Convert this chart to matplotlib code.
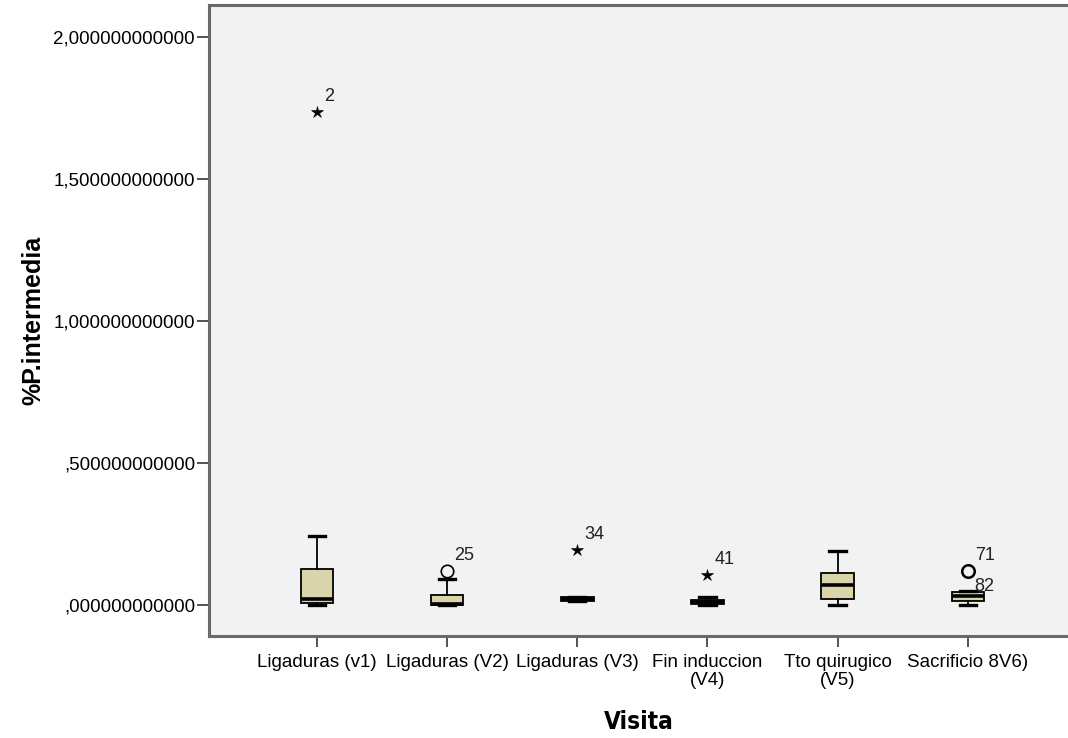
import matplotlib
matplotlib.use("Agg")
import matplotlib.pyplot as plt

plt.rcParams['font.family'] = ['Liberation Sans', 'DejaVu Sans']

# Visit categories (x axis)
categories = ["Ligaduras (v1)", "Ligaduras (V2)", "Ligaduras (V3)",
              "Fin induccion\n(V4)", "Tto quirugico\n(V5)", "Sacrificio 8V6)"]

# Box statistics of %P.intermedia per visit
q1 = [0.007, 0.001, 0.016, 0.003, 0.020, 0.013]
medians = [0.021, 0.004, 0.022, 0.011, 0.072, 0.031]
q3 = [0.126, 0.036, 0.029, 0.019, 0.114, 0.046]
whisk_lo = [0.000, 0.000, 0.016, 0.001, 0.000, 0.000]
whisk_hi = [0.244, 0.090, 0.029, 0.030, 0.191, 0.048]

# Outliers: (visit index, value, case label, extreme?)
outlier_visit = [0, 1, 2, 3, 5]
outlier_value = [1.736, 0.121, 0.194, 0.105, 0.121]
outlier_case = ["2", "25", "34", "41", "71"]
outlier_extreme = [True, False, True, True, False]

# Extra case label next to the V6 upper whisker
extra_case = "82"
extra_value = 0.050

yticks = [0.0, 0.5, 1.0, 1.5, 2.0]
ytick_labels = [",000000000000", ",500000000000", "1,000000000000",
                "1,500000000000", "2,000000000000"]

fig = plt.figure(figsize=(10.68, 7.38), dpi=100)
fig.patch.set_facecolor("white")
ax = fig.add_axes([209 / 1068, 102 / 738, 1 - 209 / 1068, 631 / 738])
ax.set_facecolor("#F2F2F2")

positions = list(range(1, len(categories) + 1))
stats = []
for i in range(len(categories)):
    stats.append(dict(med=medians[i], q1=q1[i], q3=q3[i],
                      whislo=whisk_lo[i], whishi=whisk_hi[i], fliers=[]))

ax.bxp(stats, positions=positions, widths=0.25, patch_artist=True,
       showfliers=False,
       boxprops=dict(facecolor="#D9D4A9", edgecolor="black", linewidth=1.3),
       medianprops=dict(color="black", linewidth=2.6),
       whiskerprops=dict(color="black", linewidth=1.3),
       capprops=dict(color="black", linewidth=2.4),
       capwidths=0.125)

for vi, val, case, extreme in zip(outlier_visit, outlier_value,
                                  outlier_case, outlier_extreme):
    x = positions[vi]
    if extreme:
        ax.plot(x, val, marker="*", color="black", markersize=9,
                markeredgewidth=0.4, linestyle="none", zorder=4)
    else:
        ax.plot(x, val, marker="o", markerfacecolor="none",
                markeredgecolor="black", markersize=9,
                markeredgewidth=1.8 if case == "71" else 1.2,
                linestyle="none", zorder=4)
    ax.annotate(case, xy=(x, val), xytext=(5, 5), textcoords="offset points",
                fontsize=13, ha="left", va="bottom", color="#222222")

ax.annotate(extra_case, xy=(positions[5], extra_value), xytext=(5, -3),
            textcoords="offset points", fontsize=13, ha="left",
            va="bottom", color="#222222")

ax.set_xlim(0.17, 6.77)
ax.set_ylim(-0.109, 2.113)
ax.set_xticks(positions)
ax.set_xticklabels(categories, fontsize=13.5, linespacing=1.05)
ax.set_yticks(yticks)
ax.set_yticklabels(ytick_labels, fontsize=13.5)

for side in ["left", "bottom", "top"]:
    ax.spines[side].set_color("#6A6A6A")
    ax.spines[side].set_linewidth(2.2)
ax.spines["right"].set_visible(False)
ax.tick_params(axis="y", length=9, width=1.3, color="#444444", pad=1)
ax.tick_params(axis="x", length=8, width=1.3, color="#444444", pad=5)

ax.set_ylabel("%P.intermedia", fontsize=18, fontweight="bold", labelpad=6)
ax.set_xlabel("Visita", fontsize=17.5, fontweight="bold",
              family=["DejaVu Sans"], fontstretch="condensed", labelpad=15)

fig.savefig("out.png", dpi=100)
